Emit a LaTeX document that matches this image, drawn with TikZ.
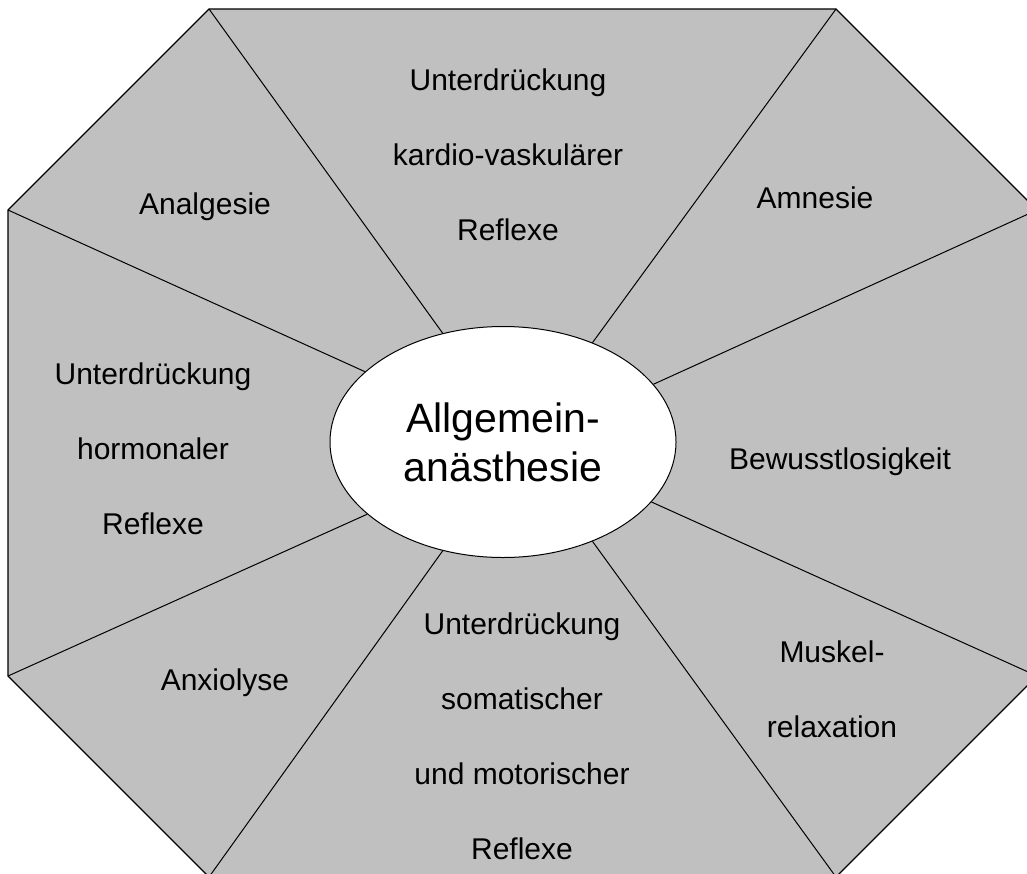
\documentclass[tikz,border=0pt]{standalone}
\usepackage{fontspec}
\setmainfont{Liberation Sans}
\usetikzlibrary{shapes.geometric}
\definecolor{octfill}{RGB}{192,192,192}
\begin{document}
\begin{tikzpicture}[x=1pt,y=-1pt,
  lbl/.style={align=center,font=\fontsize{30}{75}\selectfont,inner sep=0pt},
  spoke/.style={draw=black,line width=1pt},
  hub/.style={ellipse,draw=black,line width=1pt,fill=white,minimum width=346pt,minimum height=231pt,inner sep=0pt,align=center,font=\fontsize{41}{49}\selectfont}]
\useasboundingbox (0,0) rectangle (1027,873);
\clip (0,0) rectangle (1027,873);
\coordinate (v1) at (209,9);
\coordinate (v2) at (836,9);
\coordinate (v3) at (1037,210);
\coordinate (v4) at (1037,676);
\coordinate (v5) at (836,877);
\coordinate (v6) at (209,877);
\coordinate (v7) at (8,676);
\coordinate (v8) at (8,210);
\filldraw[fill=octfill,draw=black,line width=1.3pt] (v1)--(v2)--(v3)--(v4)--(v5)--(v6)--(v7)--(v8)--cycle;
\node[hub] (ell) at (503,442) {Allgemein-\\anästhesie};
\draw[spoke] (v1) -- (ell.119.2);
\draw[spoke] (v2) -- (ell.48.0);
\draw[spoke] (v3) -- (ell.21.2);
\draw[spoke] (v4) -- (ell.-22.3);
\draw[spoke] (v5) -- (ell.-48.3);
\draw[spoke] (v6) -- (ell.241);
\draw[spoke] (v7) -- (ell.208.2);
\draw[spoke] (v8) -- (ell.153.1);
\node[lbl] (kardio) at (508,155) {Unterdrückung\\kardio-vaskulärer\\Reflexe};
\node[lbl] (analg) at (205,207) {Analgesie};
\node[lbl] (amn) at (815,198) {Amnesie};
\node[lbl] (horm) at (153,449) {Unterdrückung\\hormonaler\\Reflexe};
\node[lbl] (bew) at (840,462) {Bewusstlosigkeit};
\node[lbl] (anx) at (225,683) {Anxiolyse};
\node[lbl] (som) at (522,736) {Unterdrückung\\somatischer\\und motorischer\\Reflexe};
\node[lbl] (musk) at (832,689) {Muskel-\\relaxation};
\end{tikzpicture}
\end{document}
